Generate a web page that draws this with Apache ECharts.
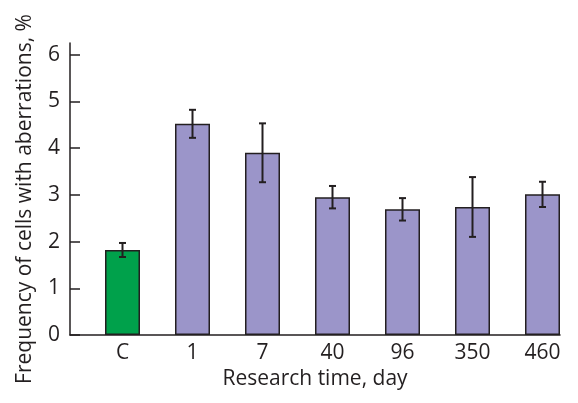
<!DOCTYPE html>
<html>
<head>
<meta charset="utf-8">
<script src="https://cdn.jsdelivr.net/npm/echarts@6/dist/echarts.min.js"></script>
<style>
html,body{margin:0;padding:0;background:#fff;}
#chart{width:578px;height:403px;}
</style>
</head>
<body>
<div id="chart"></div>
<script>
var categories = ['C', '1', '7', '40', '96', '350', '460'];
var values = [1.82, 4.52, 3.90, 2.95, 2.69, 2.74, 3.01];
var errors = [0.15, 0.30, 0.63, 0.24, 0.24, 0.64, 0.27];
var barColors = ['#00a14b', '#9b95c9', '#9b95c9', '#9b95c9', '#9b95c9', '#9b95c9', '#9b95c9'];
var yTicks = [0, 1, 2, 3, 4, 5, 6];

var positions = categories.map(function (c, i) { return i; });
var font = '"Open Sans", "Noto Sans", sans-serif';
var ink = '#231f20';

var chart = echarts.init(document.getElementById('chart'));
chart.setOption({
  animation: false,
  backgroundColor: '#fff',
  grid: { left: 70, right: 18, top: 43, bottom: 68 },
  xAxis: {
    type: 'value',
    min: -0.75,
    max: 6.25,
    splitLine: { show: false },
    axisLine: { show: true, onZero: false, lineStyle: { color: ink, width: 1.5 } },
    axisTick: { show: false },
    axisLabel: {
      customValues: positions,
      formatter: function (v) { return categories[Math.round(v)]; },
      color: ink, fontFamily: font, fontSize: 21, margin: 8
    },
    name: 'Research time, day',
    nameLocation: 'middle',
    nameGap: 29,
    nameTextStyle: { color: ink, fontFamily: font, fontSize: 21 }
  },
  yAxis: {
    type: 'value',
    min: 0,
    max: 6.25,
    splitLine: { show: false },
    axisLine: { show: true, onZero: false, lineStyle: { color: ink, width: 1.5 } },
    axisTick: { show: true, inside: true, length: 10, customValues: yTicks, lineStyle: { color: ink, width: 1.5 } },
    axisLabel: { customValues: yTicks, color: ink, fontFamily: font, fontSize: 21, margin: 10 },
    name: 'Frequency of cells with aberrations, %',
    nameLocation: 'middle',
    nameGap: 34,
    nameTextStyle: { color: ink, fontFamily: font, fontSize: 21, padding: [0, 20, 0, 0] }
  },
  series: [
    {
      type: 'bar',
      barWidth: 35,
      data: values.map(function (v, i) {
        return { value: [i, v], itemStyle: { color: barColors[i] } };
      }),
      itemStyle: { borderColor: ink, borderWidth: 1.5 }
    },
    {
      type: 'custom',
      data: values.map(function (v, i) { return [i, v - errors[i], v + errors[i]]; }),
      renderItem: function (params, api) {
        var x = api.value(0);
        var lo = api.coord([x, api.value(1)]);
        var hi = api.coord([x, api.value(2)]);
        var cap = 3.5;
        var style = { stroke: ink, lineWidth: 2 };
        return {
          type: 'group',
          children: [
            { type: 'line', shape: { x1: lo[0], y1: lo[1], x2: hi[0], y2: hi[1] }, style: style },
            { type: 'line', shape: { x1: hi[0] - cap, y1: hi[1], x2: hi[0] + cap, y2: hi[1] }, style: style },
            { type: 'line', shape: { x1: lo[0] - cap, y1: lo[1], x2: lo[0] + cap, y2: lo[1] }, style: style }
          ]
        };
      },
      z: 10
    }
  ]
});
</script>
</body>
</html>
